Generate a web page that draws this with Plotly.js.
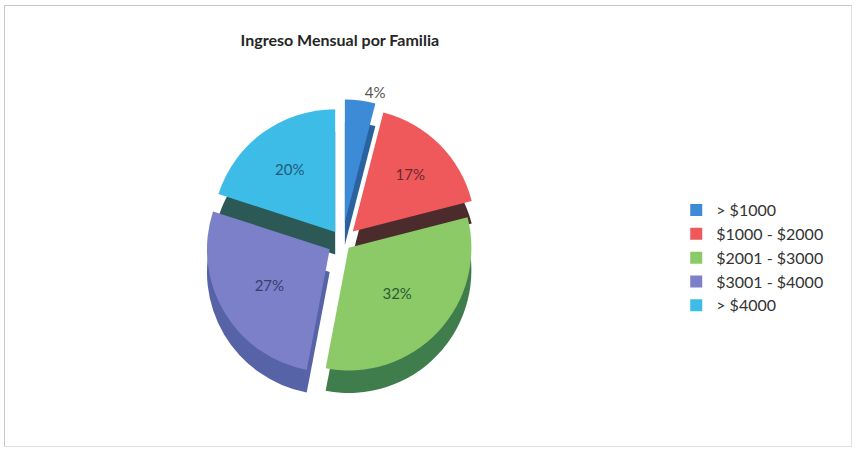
<!DOCTYPE html>
<html>
<head>
<meta charset="utf-8">
<script src="https://cdn.plot.ly/plotly-3.0.1.min.js"></script>
<style>
  html, body { margin: 0; padding: 0; background: #ffffff; }
  #wrap { position: absolute; left: 4px; top: 5px; width: 846px; height: 440px; border: 1px solid #c8c8c8; border-right-color: #e0e0e0; border-bottom-color: #e0e0e0; }
  #chart { position: absolute; left: -5px; top: -6px; width: 856px; height: 452px; }
</style>
</head>
<body>
<div id="wrap"><div id="chart"></div></div>
<script>
// Data
const categories = ['> $1000', '$1000 - $2000', '$2001 - $3000', '$3001 - $4000', '> $4000'];
const shares = [4, 17, 32, 27, 20];
const shareLabels = ['4%', '17%', '32%', '27%', '20%'];

// Styling
const topColors = ['#3d8ad6', '#f0595b', '#8cca68', '#7c80c9', '#3ebce8'];
const sideColors = ['#2a62a0', '#4b2b2c', '#3f7d4d', '#5663a6', '#2c5956'];
const textColors = ['#555555', '#6a2a2a', '#2d5a33', '#3a3d70', '#215a78'];
const pulls = [0.16, 0.12, 0.07, 0.12, 0.1];
const textPositions = ['outside', 'inside', 'inside', 'inside', 'inside'];

const common = {
  type: 'pie',
  labels: categories,
  values: shares,
  sort: false,
  direction: 'clockwise',
  rotation: 0,
  pull: pulls,
  text: shareLabels,
  textinfo: 'text',
  textposition: textPositions,
  insidetextorientation: 'horizontal',
  hoverinfo: 'label+percent',
  marker: { line: { width: 0 } }
};

const depth = Object.assign({}, common, {
  domain: { x: [0.08, 0.72], y: [0.1, 0.73] },
  marker: { colors: sideColors, line: { width: 0 } },
  textfont: { color: 'rgba(0,0,0,0)', size: 15 },
  showlegend: false,
  hoverinfo: 'skip'
});

const face = Object.assign({}, common, {
  domain: { x: [0.08, 0.72], y: [0.15, 0.78] },
  marker: { colors: topColors, line: { width: 0 } },
  textfont: { color: textColors, size: 15, family: 'Lato, "Open Sans", sans-serif' },
  showlegend: true
});

const layout = {
  width: 856,
  height: 452,
  margin: { l: 0, r: 0, t: 0, b: 0 },
  paper_bgcolor: 'rgba(0,0,0,0)',
  plot_bgcolor: 'rgba(0,0,0,0)',
  title: {
    text: '<b>Ingreso Mensual por Familia</b>',
    font: { family: 'Lato, "Open Sans", sans-serif', size: 16, color: '#262626' },
    x: 0.397, xanchor: 'center',
    y: 0.91, yanchor: 'middle'
  },
  legend: {
    x: 0.79, xanchor: 'left',
    y: 0.43, yanchor: 'middle',
    font: { family: 'Lato, "Open Sans", sans-serif', size: 16, color: '#333333' },
    itemwidth: 30,
    traceorder: 'normal'
  },
  showlegend: true
};

Plotly.newPlot('chart', [depth, face], layout, { displayModeBar: false, staticPlot: true });
</script>
</body>
</html>
